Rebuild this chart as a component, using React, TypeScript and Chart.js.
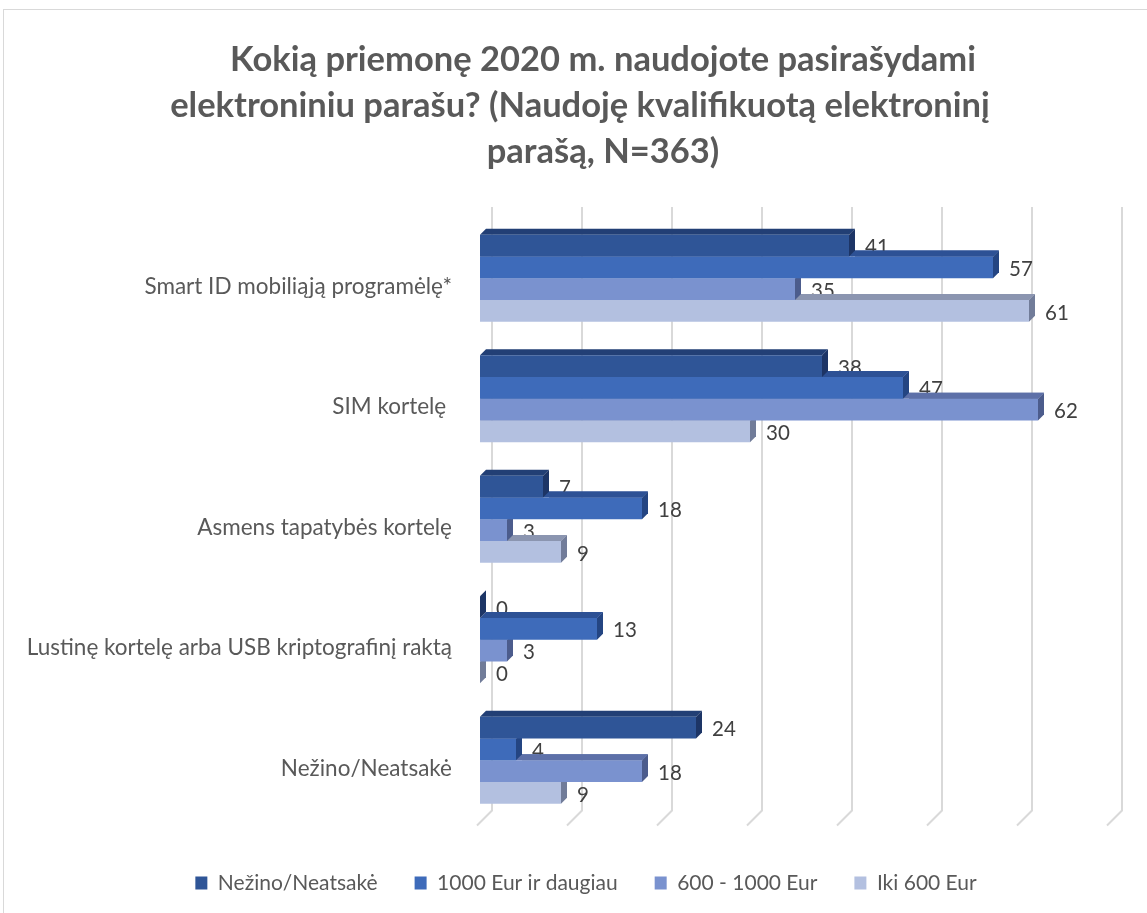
import React, { useEffect, useRef } from "react";
import { Chart, registerables } from "chart.js";

Chart.register(...registerables);

// ---- data ----
const categories = [
  "Smart ID mobiliąją programėlę*",
  "SIM kortelę ",
  "Asmens tapatybės kortelę",
  "Lustinę kortelę arba USB kriptografinį raktą",
  "Nežino/Neatsakė",
];
const seriesNames = ["Nežino/Neatsakė", "1000 Eur ir daugiau", "600 - 1000 Eur", "Iki 600 Eur"];
const nezinoValues = [41, 38, 7, 0, 24];
const over1000Values = [57, 47, 18, 13, 4];
const from600to1000Values = [35, 62, 3, 3, 18];
const under600Values = [61, 30, 9, 0, 9];
const titleLines = [
  "Kokią priemonę 2020 m. naudojote pasirašydami",
  "elektroniniu parašu? (Naudoję kvalifikuotą elektroninį",
  "parašą, N=363)",
];
const axisMin = 0;
const axisMax = 70;
const axisStep = 10;

// ---- styles ----
const frontColors = ["#2F5597", "#3E6BBA", "#7A92CF", "#B3C0E0"];
const topColors = ["#223F75", "#2D5195", "#5D70A8", "#8B95B0"];
const sideColors = ["#1D3566", "#244582", "#4C5C8C", "#717C99"];
const titleCenters = [603, 580, 603];
const DEPTH = 6;
const FONT = "Lato, 'Open Sans', sans-serif";

function barBox(el: any) {
  const p = el.getProps(["x", "y", "base", "height"], true);
  const t = p.y - p.height / 2;
  const b = p.y + p.height / 2;
  const l = Math.min(p.x, p.base);
  const r = Math.max(p.x, p.base);
  return { t, b, l, r, y: p.y };
}

function drawTop(ctx: CanvasRenderingContext2D, el: any, color: string) {
  const { t, l, r } = barBox(el);
  ctx.fillStyle = color;
  ctx.beginPath();
  ctx.moveTo(l, t);
  ctx.lineTo(r, t);
  ctx.lineTo(r + DEPTH, t - DEPTH);
  ctx.lineTo(l + DEPTH, t - DEPTH);
  ctx.closePath();
  ctx.fill();
}

function drawSide(ctx: CanvasRenderingContext2D, el: any, color: string) {
  const { t, b, r } = barBox(el);
  ctx.fillStyle = color;
  ctx.beginPath();
  ctx.moveTo(r, t);
  ctx.lineTo(r + DEPTH, t - DEPTH);
  ctx.lineTo(r + DEPTH, b - DEPTH);
  ctx.lineTo(r, b);
  ctx.closePath();
  ctx.fill();
}

const decorPlugin = {
  id: "decor3d",
  beforeDraw(chart: any) {
    const ctx = chart.ctx as CanvasRenderingContext2D;
    ctx.save();
    ctx.fillStyle = "#ffffff";
    ctx.fillRect(0, 0, chart.width, chart.height);
    ctx.strokeStyle = "#d9d9d9";
    ctx.lineWidth = 1;
    ctx.strokeRect(3.5, 9.5, chart.width + 50, chart.height + 50);
    ctx.restore();
  },
  beforeDatasetsDraw(chart: any) {
    const ctx = chart.ctx as CanvasRenderingContext2D;
    const xs = chart.scales.x;
    const area = chart.chartArea;
    ctx.save();
    ctx.strokeStyle = "#d9d9d9";
    ctx.lineWidth = 2;
    for (let v = axisMin; v <= axisMax; v += axisStep) {
      const xb = xs.getPixelForValue(v) + 12;
      ctx.beginPath();
      ctx.moveTo(xb, area.top - 11);
      ctx.lineTo(xb, area.bottom - 10);
      ctx.lineTo(xb - 15, area.bottom + 5);
      ctx.stroke();
    }
    ctx.restore();
  },
  beforeDatasetDraw(chart: any, args: any) {
    const ctx = chart.ctx as CanvasRenderingContext2D;
    const i = args.index;
    ctx.save();
    args.meta.data.forEach((el: any) => {
      drawTop(ctx, el, topColors[i]);
      drawSide(ctx, el, sideColors[i]);
    });
    ctx.restore();
  },
  afterDatasetsDraw(chart: any) {
    const ctx = chart.ctx as CanvasRenderingContext2D;
    ctx.save();
    ctx.font = `20.5px ${FONT}`;
    ctx.fillStyle = "#404040";
    ctx.textAlign = "left";
    ctx.textBaseline = "middle";
    chart.data.datasets.forEach((ds: any, i: number) => {
      const meta = chart.getDatasetMeta(i);
      meta.data.forEach((el: any, j: number) => {
        const { r, y } = barBox(el);
        ctx.fillText(String(ds.data[j]), r + 16, y + 2);
      });
    });
    // re-draw exposed top faces over the labels of the series above
    for (let i = 1; i < chart.data.datasets.length; i++) {
      const meta = chart.getDatasetMeta(i);
      const prev = chart.getDatasetMeta(i - 1);
      meta.data.forEach((el: any, j: number) => {
        const pr = barBox(prev.data[j]).r;
        ctx.save();
        ctx.beginPath();
        ctx.rect(pr + DEPTH, 0, chart.width, chart.height);
        ctx.clip();
        drawTop(ctx, el, topColors[i]);
        ctx.restore();
      });
    }
    ctx.restore();
  },
  afterDraw(chart: any) {
    const ctx = chart.ctx as CanvasRenderingContext2D;
    ctx.save();
    ctx.font = `bold 34.5px ${FONT}`;
    ctx.fillStyle = "#595959";
    ctx.textAlign = "center";
    ctx.textBaseline = "alphabetic";
    titleLines.forEach((line, k) => {
      ctx.fillText(line, titleCenters[k], 71 + k * 46);
    });
    ctx.restore();
  },
};

export default function App() {
  const canvasRef = useRef<HTMLCanvasElement | null>(null);

  useEffect(() => {
    const canvas = canvasRef.current;
    if (!canvas) return;
    const seriesValues = [nezinoValues, over1000Values, from600to1000Values, under600Values];
    const chart = new Chart(canvas, {
      type: "bar",
      data: {
        labels: categories,
        datasets: seriesNames.map((name, i) => ({
          label: name,
          data: seriesValues[i],
          backgroundColor: frontColors[i],
          borderWidth: 0,
          categoryPercentage: 0.7225,
          barPercentage: 1,
        })),
      },
      options: {
        indexAxis: "y",
        responsive: false,
        animation: false,
        layout: { padding: { left: 25, right: 0, top: 218, bottom: 9.5 } },
        scales: {
          x: {
            min: axisMin,
            max: axisMax,
            display: true,
            ticks: { display: false, stepSize: axisStep },
            grid: { display: false, drawTicks: false },
            border: { display: false },
            afterFit: (s: any) => {
              s.height = 15;
            },
          },
          y: {
            grid: { display: false, drawTicks: false },
            border: { display: false },
            ticks: {
              color: "#595959",
              font: { family: FONT, size: 22.5 },
              padding: 28,
              labelOffset: 8,
            },
            afterFit: (s: any) => {
              s.width = 455;
            },
          },
          yRight: {
            type: "linear",
            position: "right",
            display: true,
            ticks: { display: false },
            grid: { display: false, drawTicks: false },
            border: { display: false },
            afterFit: (s: any) => {
              s.width = 37;
            },
          },
        },
        plugins: {
          legend: {
            position: "bottom",
            labels: {
              boxWidth: 12,
              boxHeight: 13,
              padding: 37,
              color: "#595959",
              font: { family: FONT, size: 21 },
            },
          },
          title: { display: false },
          tooltip: { enabled: false },
        },
      },
      plugins: [decorPlugin],
    } as any);
    return () => chart.destroy();
  }, []);

  return (
    <div style={{ position: "fixed", left: 0, top: 0, width: 1147, height: 913, background: "#fff" }}>
      <canvas ref={canvasRef} width={1147} height={913} style={{ display: "block" }} />
    </div>
  );
}
